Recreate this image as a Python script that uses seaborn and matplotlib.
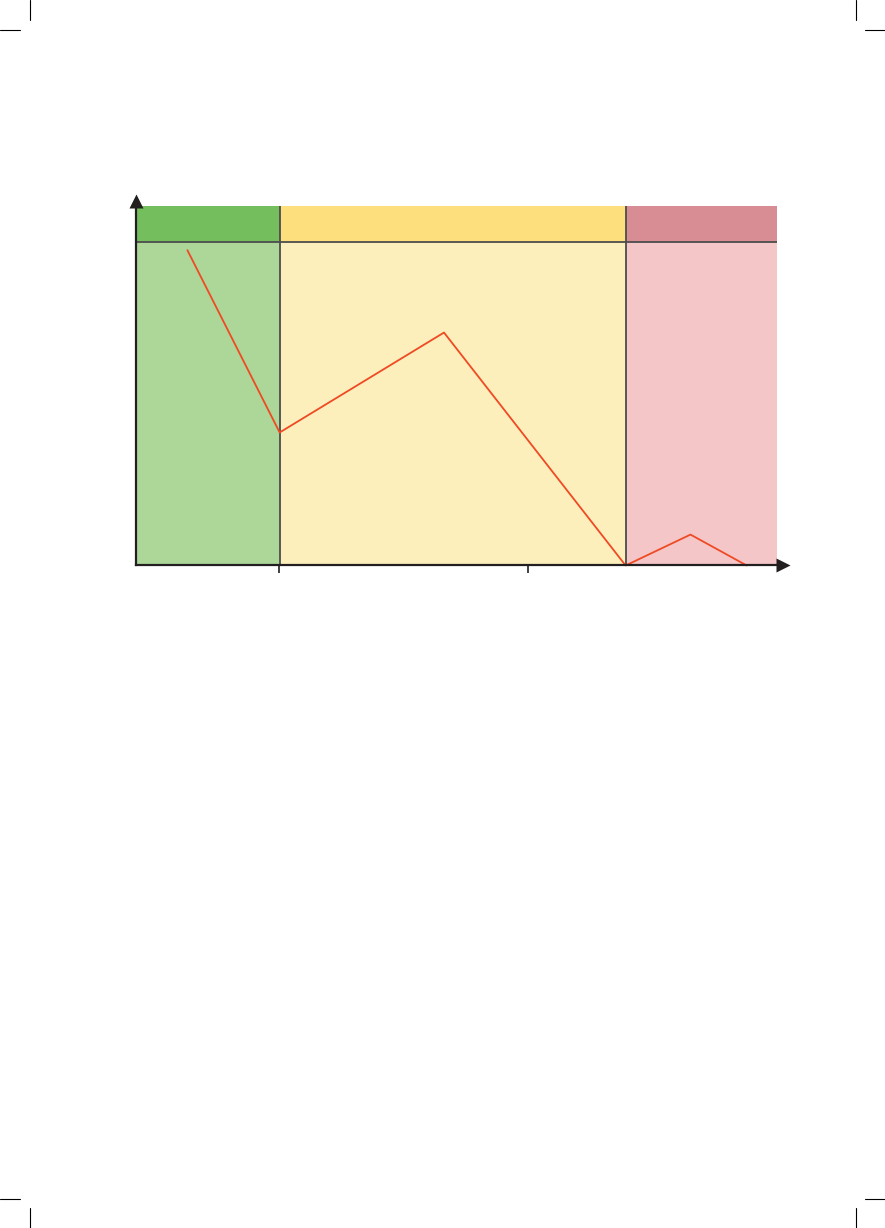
import matplotlib
matplotlib.use("Agg")
import matplotlib.pyplot as plt
import seaborn as sns
import pandas as pd
from matplotlib.lines import Line2D

# ---- data ----
zone_starts = [0, 10, 34]
zone_ends = [10, 34, 44.5]
zone_band_colors = ["#74BE5E", "#FDE07D", "#D88C94"]
zone_fill_colors = ["#ACD799", "#FCEFBB", "#F4C6C8"]
band_bottom = 90
band_top = 100

line_x = [3.6, 10, 21.4, 34, 38.5, 42.4]
line_y = [87.7, 37.0, 64.8, 0, 8.6, 0]

tick_positions = [9.95, 27.2]

# ---- figure ----
W, H = 885, 1228
fig = plt.figure(figsize=(W / 100, H / 100), dpi=100)
sns.set_style("white")

left_px, right_px, bottom_px, top_px = 135.5, 777, 565.5, 206
ax = fig.add_axes([left_px / W, 1 - bottom_px / H,
                   (right_px - left_px) / W, (bottom_px - top_px) / H])
ax.set_xlim(0, 44.5)
ax.set_ylim(0, 100)

edge = "#4D4D4D"
for s, e, bc, fc in zip(zone_starts, zone_ends, zone_band_colors, zone_fill_colors):
    ax.axvspan(s, e, ymin=0, ymax=band_bottom / 100, color=fc, lw=0, zorder=0)
    ax.axvspan(s, e, ymin=band_bottom / 100, ymax=1, color=bc, lw=0, zorder=0)

# zone boundaries and band line
for b in zone_starts[1:]:
    ax.axvline(b, color=edge, lw=1.3, zorder=1)
ax.axhline(band_bottom, color=edge, lw=1.3, zorder=1)

df = pd.DataFrame({"x": line_x, "y": line_y})
sns.lineplot(data=df, x="x", y="y", ax=ax, color="#EF4A24", lw=1.3,
             sort=False, zorder=3, clip_on=False)

# axes styling
for sp in ["top", "right"]:
    ax.spines[sp].set_visible(False)
for sp in ["left", "bottom"]:
    ax.spines[sp].set_color("#231F20")
    ax.spines[sp].set_linewidth(1.6)
    ax.spines[sp].set_zorder(4)
ax.set_xticks(tick_positions)
ax.set_xticklabels([])
ax.set_yticks([])
ax.tick_params(axis="x", direction="out", length=5.5, width=1.2, colors="#231F20", bottom=True)
ax.set_xlabel("")
ax.set_ylabel("")

# arrows at axis ends
ax.plot([(783.5 - left_px) / (right_px - left_px)], [0], marker=">", ms=9.8,
        color="#231F20", transform=ax.transAxes, clip_on=False, zorder=5, mec="none")
ax.plot([0], [(bottom_px - 201.5) / (bottom_px - top_px)], marker="^", ms=9.8,
        color="#231F20", transform=ax.transAxes, clip_on=False, zorder=5, mec="none")

# crop marks
def px_line(x0, y0, x1, y1):
    fig.add_artist(Line2D([x0 / W, x1 / W], [1 - y0 / H, 1 - y1 / H],
                          color="black", lw=0.8, transform=fig.transFigure))

px_line(29.5, 0, 29.5, 20)
px_line(0, 29.5, 20, 29.5)
px_line(856, 0, 856, 20)
px_line(865, 29.5, 885, 29.5)
px_line(0, 1198.5, 20, 1198.5)
px_line(29.5, 1208, 29.5, 1228)
px_line(865, 1198.5, 885, 1198.5)
px_line(856, 1208, 856, 1228)

fig.savefig("out.png", dpi=100)
